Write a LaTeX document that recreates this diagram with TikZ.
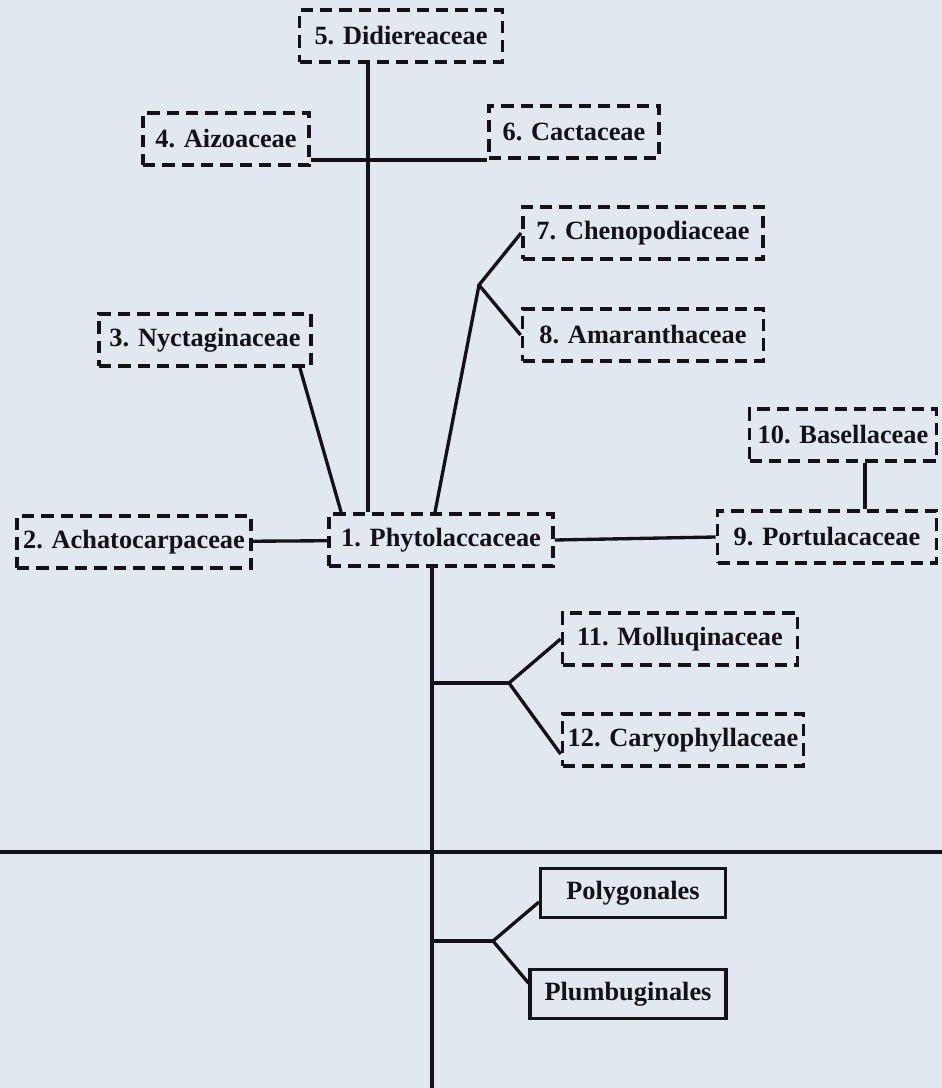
\documentclass[tikz,border=0pt]{standalone}
\usepackage{fontspec}
\setmainfont{Liberation Serif}
\usetikzlibrary{calc}
\definecolor{paper}{RGB}{226,232,239}
\definecolor{ink}{RGB}{18,18,24}

\tikzset{
    family/.style={draw=ink, rectangle, dash pattern=on 7pt off 4pt, line width=2.2pt,
        minimum height=1.04cm, inner sep=2pt, text=ink, font=\bfseries\fontsize{15}{17}\selectfont},
    order/.style={draw=ink, rectangle, solid, line width=1.8pt,
        minimum height=0.98cm, inner sep=2pt, text=ink, font=\bfseries\fontsize{15}{17}\selectfont},
    link/.style={draw=ink, line width=1.9pt}
}

\begin{document}
\begin{tikzpicture}[x=0.02cm, y=-0.02cm]
    \fill[paper] (0,0) rectangle (942,1088);
    \useasboundingbox (0,0) rectangle (942,1088);

    \node[family, minimum width=4.06cm] (d5) at (401,36) {5. Didiereaceae};
    \node[family, minimum width=3.32cm] (a4) at (226,139) {4. Aizoaceae};
    \node[family, minimum width=3.40cm] (c6) at (574,132) {6. Cactaceae};
    \node[family, minimum width=4.80cm] (c7) at (643,233) {7. Chenopodiaceae};
    \node[family, minimum width=4.82cm] (a8) at (643,335) {8. Amaranthaceae};
    \node[family, minimum width=4.24cm] (n3) at (205,340) {3. Nyctaginaceae};
    \node[family, minimum width=3.74cm] (b10) at (843,435) {10. Basellaceae};
    \node[family, minimum width=4.68cm] (a2) at (134,542) {2. Achatocarpaceae};
    \node[family, minimum width=4.48cm] (p1) at (441,540) {1. Phytolaccaceae};
    \node[family, minimum width=4.38cm] (p9) at (827,537) {9. Portulacaceae};
    \node[family, minimum width=4.70cm] (m11) at (680,639) {11. Molluqinaceae};
    \node[family, minimum width=4.82cm] (c12) at (683,740) {12. Caryophyllaceae};
    \node[order, minimum width=3.70cm] (pol) at (633,893) {Polygonales};
    \node[order, minimum width=3.92cm] (plu) at (628,994) {Plumbuginales};

    \coordinate (stem) at (368,0);
    \coordinate (trunk) at (432,1088);
    \coordinate (f78) at (479,285);
    \coordinate (f1112) at (509,683);
    \coordinate (fpp) at (493,941);
    \coordinate (ruleL) at (0,852);
    \coordinate (ruleR) at (942,852);

    \draw[link] (d5.south -| stem) -- (p1.north -| stem);
    \draw[link] (a4.east |- c6.south west) -- (c6.south west);
    \draw[link] ($(n3.south east)+(-13,0)$) -- ($(p1.north west)+(14,0)$);
    \draw[link] (c7.west) -- (f78) -- (a8.west);
    \draw[link] (f78) -- ($(p1.north)+(-6,0)$);
    \draw[link] (a2) -- (p1);
    \draw[link] (p1.east) -- (p9.west);
    \draw[link] ($(b10.south)+(22,0)$) -- ($(p9.north)+(38,0)$);
    \draw[link] (p1.south -| trunk) -- (trunk);
    \draw[link] (f1112 -| trunk) -- (f1112);
    \draw[link] (m11.west) -- (f1112) -- ($(c12.west)+(0,14)$);
    \draw[link] (ruleL) -- (ruleR);
    \draw[link] (fpp -| trunk) -- (fpp);
    \draw[link] ($(pol.west)+(0,9)$) -- (fpp) -- ($(plu.west)+(0,-11)$);
\end{tikzpicture}
\end{document}
